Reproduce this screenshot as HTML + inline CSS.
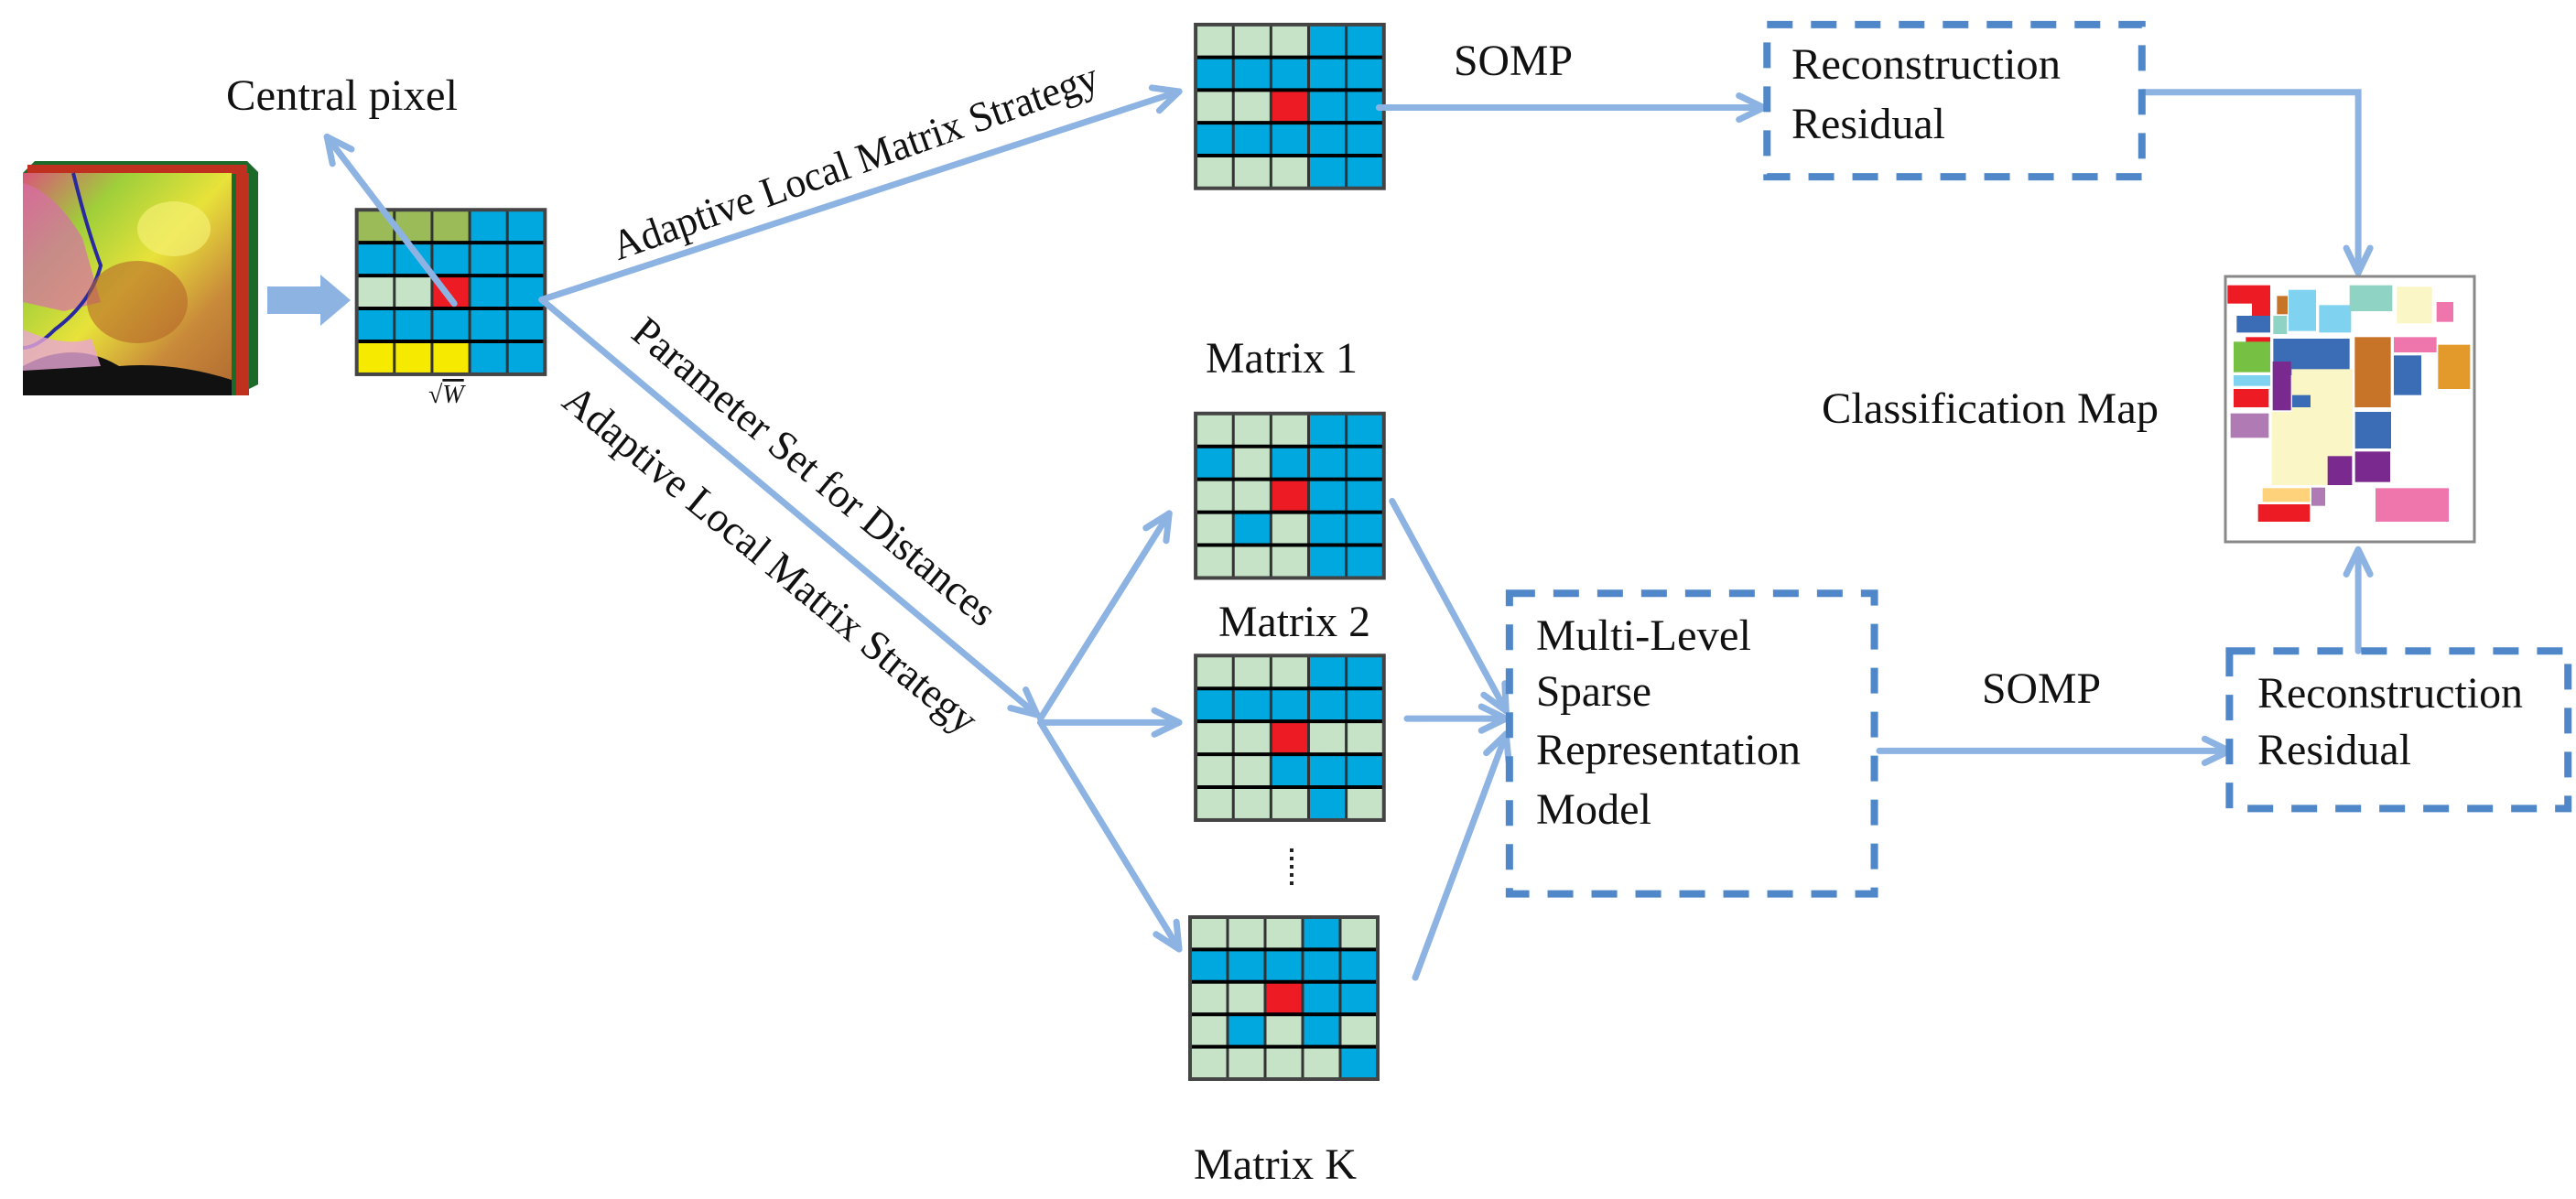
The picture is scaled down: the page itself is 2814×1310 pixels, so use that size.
<!DOCTYPE html>
<html><head><meta charset="utf-8"><style>
html,body{margin:0;padding:0;background:#fff;}
svg{display:block;}
text{font-family:"Liberation Serif",serif;fill:#111;}
</style></head><body>
<svg id="s" width="2814" height="1310" viewBox="0 0 2814 1310" xmlns="http://www.w3.org/2000/svg">
<defs>
<linearGradient id="cg" x1="0" y1="0" x2="1" y2="1">
<stop offset="0" stop-color="#d9557a"/><stop offset="0.25" stop-color="#9fcf3a"/><stop offset="0.5" stop-color="#e8e23a"/><stop offset="0.75" stop-color="#c98a3a"/><stop offset="1" stop-color="#b06a30"/>
</linearGradient>
</defs>
<g id="shapes"></g>
<g font-size="48">
<text x="247" y="120" textLength="253" lengthAdjust="spacingAndGlyphs">Central pixel</text>
<text x="468" y="440" font-size="28" font-style="italic">√<tspan text-decoration="overline">W</tspan></text>
<text x="1588" y="82" textLength="130" lengthAdjust="spacingAndGlyphs">SOMP</text>
<text x="1957" y="86" textLength="294" lengthAdjust="spacingAndGlyphs">Reconstruction</text>
<text x="1957" y="151" textLength="168" lengthAdjust="spacingAndGlyphs">Residual</text>
<text x="1990" y="462" textLength="368" lengthAdjust="spacingAndGlyphs">Classification Map</text>
<text x="1317" y="407" textLength="166" lengthAdjust="spacingAndGlyphs">Matrix 1</text>
<text x="1331" y="695" textLength="166" lengthAdjust="spacingAndGlyphs">Matrix 2</text>
<text x="1304" y="1288" textLength="178" lengthAdjust="spacingAndGlyphs">Matrix K</text>
<text x="1678" y="710" textLength="235" lengthAdjust="spacingAndGlyphs">Multi-Level</text>
<text x="1678" y="771" textLength="126" lengthAdjust="spacingAndGlyphs">Sparse</text>
<text x="1678" y="835" textLength="289" lengthAdjust="spacingAndGlyphs">Representation</text>
<text x="1678" y="900" textLength="126" lengthAdjust="spacingAndGlyphs">Model</text>
<text x="2165" y="768" textLength="130" lengthAdjust="spacingAndGlyphs">SOMP</text>
<text x="2466" y="773" textLength="290" lengthAdjust="spacingAndGlyphs">Reconstruction</text>
<text x="2466" y="835" textLength="168" lengthAdjust="spacingAndGlyphs">Residual</text>
<text transform="translate(934,176) rotate(-19.6)" text-anchor="middle" dominant-baseline="central" textLength="560" lengthAdjust="spacingAndGlyphs" font-size="46">Adaptive Local Matrix Strategy</text>
<text transform="translate(890,515) rotate(39.6)" text-anchor="middle" dominant-baseline="central" textLength="500" lengthAdjust="spacingAndGlyphs" font-size="46">Parameter Set for Distances</text>
<text transform="translate(842,611) rotate(39.4)" text-anchor="middle" dominant-baseline="central" textLength="570" lengthAdjust="spacingAndGlyphs" font-size="46">Adaptive Local Matrix Strategy</text>
</g>
</svg>
<script>
(function(){
var X=function(z){return z*1.804}, Y=function(z){return z*0.8397};
var h='';
var C={B:'#00a8e0',L:'#c6e3c8',O:'#9bbb59',R:'#ed1c24',Y:'#f5ea00'};
function grid(x0,y0,x1,y1,rows){
 var cw=(x1-x0)/5, ch=(y1-y0)/5;
 for(var r=0;r<5;r++)for(var c=0;c<5;c++){
  h+='<rect x="'+(x0+c*cw)+'" y="'+(y0+r*ch)+'" width="'+(cw+0.5)+'" height="'+(ch+0.5)+'" fill="'+C[rows[r][c]]+'"/>';}
 for(var c=1;c<5;c++)h+='<line x1="'+(x0+c*cw)+'" y1="'+y0+'" x2="'+(x0+c*cw)+'" y2="'+y1+'" stroke="#333" stroke-width="3"/>';
 for(var r=1;r<5;r++)h+='<line x1="'+x0+'" y1="'+(y0+r*ch)+'" x2="'+x1+'" y2="'+(y0+r*ch)+'" stroke="#000" stroke-width="4"/>';
 h+='<rect x="'+x0+'" y="'+y0+'" width="'+(x1-x0)+'" height="'+(y1-y0)+'" fill="none" stroke="#444" stroke-width="4"/>';
}
var AC='#8db3e2';
function line(x1,y1,x2,y2,w){h+='<line x1="'+x1+'" y1="'+y1+'" x2="'+x2+'" y2="'+y2+'" stroke="'+AC+'" stroke-width="'+(w||7)+'" stroke-linecap="round"/>';}
function head(x1,y1,x2,y2){
 var a=Math.atan2(y2-y1,x2-x1), L=30, s=0.45;
 var p1=[x2-L*Math.cos(a-s),y2-L*Math.sin(a-s)], p2=[x2-L*Math.cos(a+s),y2-L*Math.sin(a+s)];
 h+='<polyline points="'+p1+' '+x2+','+y2+' '+p2+'" fill="none" stroke="'+AC+'" stroke-width="7" stroke-linecap="round" stroke-linejoin="round"/>';
}
function arrow(a,b,c,d){line(a,b,c,d);head(a,b,c,d);}
function dbox(x0,y0,x1,y1){h+='<rect x="'+x0+'" y="'+y0+'" width="'+(x1-x0)+'" height="'+(y1-y0)+'" fill="none" stroke="#4f87c9" stroke-width="8" stroke-dasharray="28 20"/>';}

// cube
h+='<polygon points="38,176 270,176 282,188 282,420 258,432 25,432 25,189" fill="#1c6a2a"/>';
h+='<rect x="30" y="180" width="240" height="10" fill="#c0301e"/>';
h+='<rect x="258" y="189" width="14" height="243" fill="#c0301e"/>';
h+='<rect x="25" y="189" width="228" height="243" fill="url(#cg)"/>';
h+='<path d="M25,200 Q60,210 90,260 L110,330 L70,340 L25,330 Z" fill="#d76fa8" opacity="0.7"/>';
h+='<path d="M80,189 Q95,250 110,290 Q100,330 60,360 Q40,380 25,380" fill="none" stroke="#2a2aa0" stroke-width="4"/>';
h+='<ellipse cx="150" cy="330" rx="55" ry="45" fill="#b5662a" opacity="0.6"/>';
h+='<ellipse cx="190" cy="250" rx="40" ry="30" fill="#f3f070" opacity="0.7"/>';
h+='<path d="M25,400 Q80,370 130,400 Q190,395 253,415 L253,432 L25,432 Z" fill="#111"/>';
h+='<path d="M25,360 Q70,380 100,370 L110,400 L25,405Z" fill="#e9a6d6" opacity="0.8"/>';
// thick arrow
h+='<polygon points="292,313 350,313 350,300 383,328 350,356 350,343 292,343" fill="'+AC+'"/>';
// grids
grid(X(216),Y(273),X(330),Y(487),['OOOBB','BBBBB','LLRBB','BBBBB','YYYBB']);
grid(X(724),Y(32),X(838),Y(245),['LLLBB','BBBBB','LLRBB','BBBBB','LLLBB']);
grid(X(724),Y(538),X(838),Y(752),['LLLBB','BLBBB','LLRBB','LBLBB','LLLBB']);
grid(X(724),Y(853),X(838),Y(1067),['LLLBB','BBBBB','LLRLL','LLBBB','LLLBL']);
grid(1300,1002,1505,1179,['LLLBL','BBBBB','LLRBB','LBLBL','LLLLB']);
// dots
h+='<line x1="1411" y1="927" x2="1411" y2="970" stroke="#222" stroke-width="4" stroke-dasharray="4 5"/>';
// arrows
arrow(X(275),Y(395),X(198),Y(178));
arrow(X(328),Y(390),X(714),Y(119));
arrow(X(328),Y(390),X(628),Y(930));
arrow(X(630),Y(935),X(708),Y(668));
arrow(X(630),Y(940),X(714),Y(940));
arrow(X(630),Y(940),X(714),Y(1235));
arrow(X(843),Y(652),X(912),Y(925));
arrow(X(852),Y(935),X(912),Y(935));
arrow(X(857),Y(1272),X(912),Y(955));
arrow(X(835),Y(140),X(1068),Y(140));
h+='<polyline points="'+X(1297)+','+Y(120)+' '+X(1428)+','+Y(120)+' '+X(1428)+','+Y(355)+'" fill="none" stroke="'+AC+'" stroke-width="7"/>';
head(X(1428),Y(120),X(1428),Y(355));
arrow(X(1138),Y(977),X(1350),Y(977));
arrow(X(1428),Y(847),X(1428),Y(715));
dbox(X(1070),Y(32),X(1297),Y(230));
dbox(X(914),Y(772),X(1135),Y(1163));
dbox(X(1350),Y(847),X(1555),Y(1052));
// map
h+='<rect x="2431" y="302" width="272" height="290" fill="#fff" stroke="#888" stroke-width="3"/>';
var P=[['#ed1c24',100,125,140,60],['#ed1c24',180,160,60,70],['#3a6db5',130,225,110,55],['#8ed3c4',250,225,45,60],['#c87428',262,160,35,60],['#7fd3f0',300,140,90,135],['#7fd3f0',400,190,105,90],['#8ed3c4',500,125,140,85],['#fbf6c6',655,130,115,120],['#ef76ad',785,180,55,65],['#ed1c24',160,295,80,50],['#76c043',120,310,120,100],['#3a6db5',250,300,250,120],['#c87428',517,295,118,230],['#ef76ad',645,295,140,50],['#e39a2a',790,320,105,145],['#3a6db5',645,355,90,130],['#7fd3f0',120,420,120,35],['#7a2a8e',248,375,60,160],['#fbf6c6',310,400,200,380],['#ed1c24',120,465,115,60],['#3a6db5',312,485,60,40],['#b07ab5',110,545,125,80],['#3a6db5',518,540,118,120],['#fbf6c6',245,540,130,240],['#7a2a8e',428,685,80,95],['#7a2a8e',518,670,115,100],['#ef76ad',585,790,240,110],['#fdd27a',215,790,155,45],['#ed1c24',200,843,170,57],['#b07ab5',375,788,45,60]];
P.forEach(function(p){h+='<rect x="'+(2400+p[1]/3)+'" y="'+(270+p[2]/3)+'" width="'+(p[3]/3)+'" height="'+(p[4]/3)+'" fill="'+p[0]+'"/>';});
document.getElementById('shapes').innerHTML=h;
})();
</script>
</body></html>
